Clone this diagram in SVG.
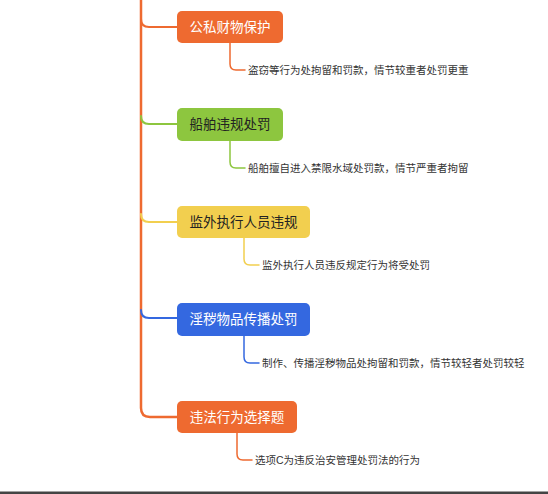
<svg xmlns="http://www.w3.org/2000/svg" width="548" height="494" viewBox="0 0 548 494">
<style>
.n{font-family:"Liberation Sans","Noto Sans CJK SC",sans-serif;font-size:13.5px;dominant-baseline:central}
.c{font-family:"Liberation Sans","Noto Sans CJK SC",sans-serif;font-size:10.5px;fill:#333;dominant-baseline:central}
.w{fill:#fff}
.d{fill:#222}
.l{fill:none;stroke-linecap:round}
</style>
<rect width="548" height="494" fill="#fff"/>
<g id="connectors">
<path class="l" d="M141,0 L141,408 Q141,417 150,417 L177,417" stroke="#EE6A30" stroke-width="2.5"/>
<path class="l" d="M141,19 Q141,27 149,27 L177,27" stroke="#EE6A30" stroke-width="2"/>
<path class="l" d="M141,116 Q141,124 149,124 L177,124" stroke="#8DC63F" stroke-width="2"/>
<path class="l" d="M141,214 Q141,222 149,222 L177,222" stroke="#F2CF4F" stroke-width="2"/>
<path class="l" d="M141,310 Q141,318 149,318 L177,318" stroke="#3468E0" stroke-width="2"/>
<path class="l" d="M230,43 L230,64 Q230,70 236,70 L245,70" stroke="#EE6A30" stroke-width="1.5"/>
<path class="l" d="M230,141 L230,162 Q230,168 236,168 L245,168" stroke="#8DC63F" stroke-width="1.5"/>
<path class="l" d="M244,238 L244,259 Q244,265 250,265 L259,265" stroke="#F2CF4F" stroke-width="1.5"/>
<path class="l" d="M244,336 L244,357 Q244,363 250,363 L259,363" stroke="#3468E0" stroke-width="1.5"/>
<path class="l" d="M237,433 L237,454 Q237,460 243,460 L252,460" stroke="#EE6A30" stroke-width="1.5"/>
</g>
<g id="n1"><rect x="177" y="11" width="106" height="32" rx="5" fill="#EE6A30"/><text class="n w" x="230" y="27" text-anchor="middle">公私财物保护</text></g>
<g id="n1c"><text class="c" x="248" y="70">盗窃等行为处拘留和罚款，情节较重者处罚更重</text></g>
<g id="n2"><rect x="177" y="108" width="106" height="33" rx="5" fill="#8DC63F"/><text class="n d" x="230" y="124.5" text-anchor="middle">船舶违规处罚</text></g>
<g id="n2c"><text class="c" x="248" y="168">船舶擅自进入禁限水域处罚款，情节严重者拘留</text></g>
<g id="n3"><rect x="177" y="206" width="133" height="32" rx="5" fill="#F2CF4F"/><text class="n d" x="243.5" y="222" text-anchor="middle">监外执行人员违规</text></g>
<g id="n3c"><text class="c" x="262" y="265">监外执行人员违反规定行为将受处罚</text></g>
<g id="n4"><rect x="177" y="303" width="133" height="33" rx="5" fill="#3468E0"/><text class="n w" x="243.5" y="319.5" text-anchor="middle">淫秽物品传播处罚</text></g>
<g id="n4c"><text class="c" x="262" y="363">制作、传播淫秽物品处拘留和罚款，情节较轻者处罚较轻</text></g>
<g id="n5"><rect x="177" y="401" width="120" height="32" rx="5" fill="#EE6A30"/><text class="n w" x="237" y="417" text-anchor="middle">违法行为选择题</text></g>
<g id="n5c"><text class="c" x="255" y="460">选项C为违反治安管理处罚法的行为</text></g>
<rect x="0" y="491.5" width="548" height="2.5" fill="#444"/>
</svg>
